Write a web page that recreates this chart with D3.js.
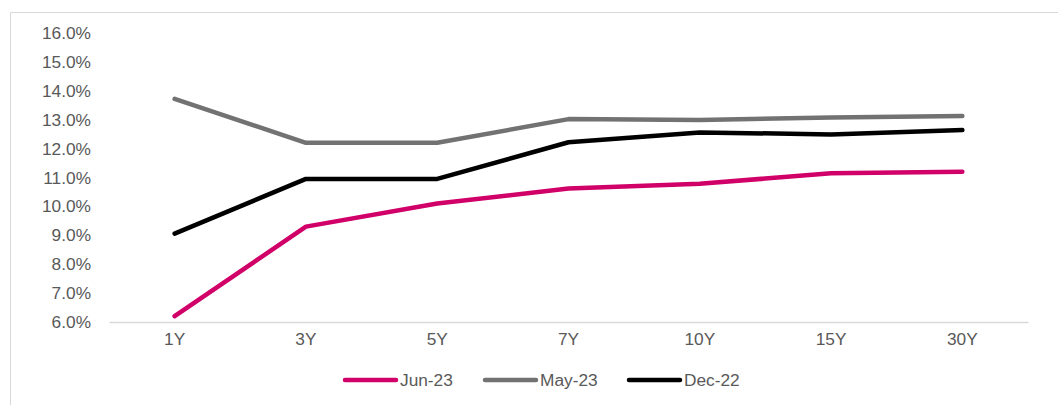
<!DOCTYPE html>
<head>
  <meta charset="utf-8">
  <style>
  body{
    margin:0;
    background:#fff;
    font-family: "Liberation Sans", Arial, sans-serif;
  }
  .tick text{
    fill:#595959;
    font-size:17.3px;
    font-family: "Liberation Sans", Arial, sans-serif;
  }
  .legend text{
    fill:#595959;
    font-size:17.3px;
  }
  </style>
</head>
<body>
  <svg width="1058" height="405"></svg>
  <script src="https://d3js.org/d3.v7.min.js"></script>
  <script>

  var tenors = ["1Y", "3Y", "5Y", "7Y", "10Y", "15Y", "30Y"];
  var jun23 = [6.2, 9.3, 10.1, 10.62, 10.78, 11.15, 11.2];
  var may23 = [13.72, 12.2, 12.2, 13.02, 12.99, 13.08, 13.13];
  var dec22 = [9.06, 10.95, 10.95, 12.22, 12.56, 12.49, 12.64];
  var seriesNames = ["Jun-23", "May-23", "Dec-22"];
  var yTicks = [6, 7, 8, 9, 10, 11, 12, 13, 14, 15, 16];

  var series = [
    {name: seriesNames[0], values: jun23, color: "#D10069"},
    {name: seriesNames[1], values: may23, color: "#727272"},
    {name: seriesNames[2], values: dec22, color: "#000000"}
  ];

  var svg = d3.select("svg");

  // outer frame (top and left edges only are visible)
  svg.append("path")
      .attr("d", "M10.5,405 V12.5 H1058")
      .attr("fill", "none")
      .attr("stroke", "#d9d9d9")
      .attr("stroke-width", 1);

  var x = d3.scaleBand()
      .domain(tenors)
      .range([109, 1028]);

  var y = d3.scaleLinear()
      .domain([6, 16])
      .range([322, 33]);

  var yAxis = svg.append("g")
      .attr("transform", "translate(91,0)")
      .call(d3.axisLeft(y).tickValues(yTicks).tickSize(0).tickPadding(0)
        .tickFormat(function(d) { return d.toFixed(1) + "%"; }));
  yAxis.select(".domain").remove();

  var xAxis = svg.append("g")
      .attr("transform", "translate(0,322)")
      .call(d3.axisBottom(x).tickSize(0).tickPadding(11));
  xAxis.select(".domain")
      .attr("stroke", "#d9d9d9")
      .attr("stroke-width", 1.5);

  var line = d3.line()
      .x(function(d, i) { return x(tenors[i]) + x.bandwidth() / 2; })
      .y(function(d) { return y(d); });

  svg.selectAll(".series")
    .data(series)
    .enter().append("path")
      .attr("class", "series")
      .attr("d", function(d) { return line(d.values); })
      .attr("fill", "none")
      .attr("stroke", function(d) { return d.color; })
      .attr("stroke-width", 4.5)
      .attr("stroke-linecap", "round")
      .attr("stroke-linejoin", "round");

  var legendX = [345, 485, 629];
  var legend = svg.append("g").attr("class", "legend")
    .selectAll("g")
    .data(series)
    .enter().append("g")
      .attr("transform", function(d, i) { return "translate(" + legendX[i] + ",380)"; });

  legend.append("line")
      .attr("x1", 0).attr("x2", 51)
      .attr("stroke", function(d) { return d.color; })
      .attr("stroke-width", 4.5)
      .attr("stroke-linecap", "round");

  legend.append("text")
      .attr("x", 55)
      .attr("dy", "0.35em")
      .text(function(d) { return d.name; });

  </script>
</body>
